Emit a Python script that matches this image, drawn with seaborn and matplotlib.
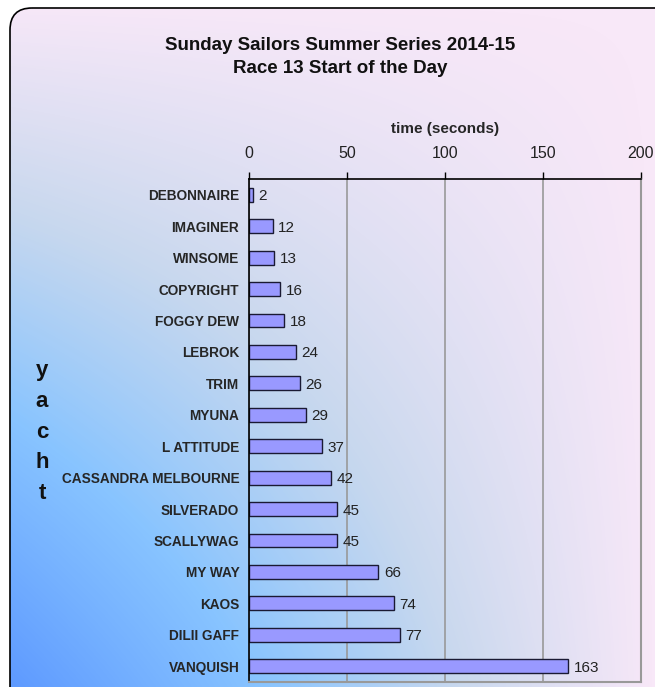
import numpy as np
import matplotlib
matplotlib.use("Agg")
import matplotlib.pyplot as plt
from matplotlib.colors import LinearSegmentedColormap
from matplotlib.patches import FancyBboxPatch
from matplotlib.ticker import FixedLocator
import seaborn as sns

# ---- data ----
yachts = ["DEBONNAIRE", "IMAGINER", "WINSOME", "COPYRIGHT", "FOGGY DEW", "LEBROK",
          "TRIM", "MYUNA", "L ATTITUDE", "CASSANDRA MELBOURNE", "SILVERADO",
          "SCALLYWAG", "MY WAY", "KAOS", "DILII GAFF", "VANQUISH"]
times = [2, 12, 13, 16, 18, 24, 26, 29, 37, 42, 45, 45, 66, 74, 77, 163]
x_ticks = [0, 50, 100, 150, 200]

title = "Sunday Sailors Summer Series 2014-15\nRace 13 Start of the Day"

sns.set_style("white")
plt.rcParams['font.family'] = ['Liberation Sans', 'DejaVu Sans']

W, H = 655, 687
fig = plt.figure(figsize=(W / 100, H / 100), dpi=100)

# ---- gradient background inside rounded frame ----
bg = fig.add_axes([0, 0, 1, 1], zorder=-10)
bg.set_xlim(0, W)
bg.set_ylim(H, 0)
bg.axis("off")
xx, yy = np.meshgrid(np.linspace(0, 1, W), np.linspace(0, 1, H))
blue = (1 - xx) * yy
cmap = LinearSegmentedColormap.from_list(
    "bg", [(0, "#f8e8f8"), (0.3, "#c8d8ee"), (0.6, "#88c4ff"), (1, "#5c98ff")])
img = bg.imshow(blue, cmap=cmap, vmin=0, vmax=1, extent=[0, W, H, 0], aspect="auto")
frame = FancyBboxPatch((10, 8), W + 30, H + 30, boxstyle="round,pad=0,rounding_size=22",
                       fc="none", ec="black", lw=1.2)
bg.add_patch(frame)
img.set_clip_path(frame)

# ---- bar chart ----
ax = fig.add_axes([249 / W, 1 - 682 / H, (641 - 249) / W, (682 - 179) / H])
ax.patch.set_alpha(0)
sns.barplot(x=times, y=yachts, orient="h", color="#9999ff", saturation=1,
            edgecolor="#1a1a33", linewidth=1, width=0.44, ax=ax)
for i, v in enumerate(times):
    ax.annotate(str(v), (v, i), xytext=(4, 0), textcoords="offset points",
                ha="left", va="center_baseline", fontsize=11, color="#222222")

ax.set_xlim(0, 200)
ax.set_ylim(len(yachts) - 0.5, -0.5)
ax.xaxis.tick_top()
ax.xaxis.set_label_position("top")
ax.set_xticks(x_ticks)
ax.tick_params(axis="x", direction="out", length=5, width=1, color="black",
               labelsize=11.5, pad=8, labelcolor="#222222")
ax.grid(axis="x", color="#999999", lw=1.2)
ax.set_axisbelow(True)
ax.set_xlabel("time (seconds)", fontsize=11, fontweight="bold", labelpad=9)

ax.tick_params(axis="y", which="major", length=0, labelsize=9.8, pad=7)
for lab in ax.get_yticklabels():
    lab.set_fontweight("bold")
ax.yaxis.set_minor_locator(FixedLocator(np.arange(-0.5, len(yachts), 1)))
ax.tick_params(axis="y", which="minor", direction="out", length=4, width=1, color="black")
ax.set_ylabel("")

for s in ["top", "left"]:
    ax.spines[s].set_color("black")
    ax.spines[s].set_linewidth(1.2)
for s in ["bottom", "right"]:
    ax.spines[s].set_color("#999999")
    ax.spines[s].set_linewidth(1.5)

fig.text(340 / W, 1 - 57 / H, title, ha="center", va="center", fontsize=13.5,
         fontweight="bold", linespacing=1.4, color="#111111")
fig.text(42 / W, 1 - 432 / H, "y\na\nc\nh\nt", ha="center", va="center", fontsize=16,
         fontweight="bold", linespacing=1.6, color="#111111")

fig.savefig("out.png", dpi=100)
